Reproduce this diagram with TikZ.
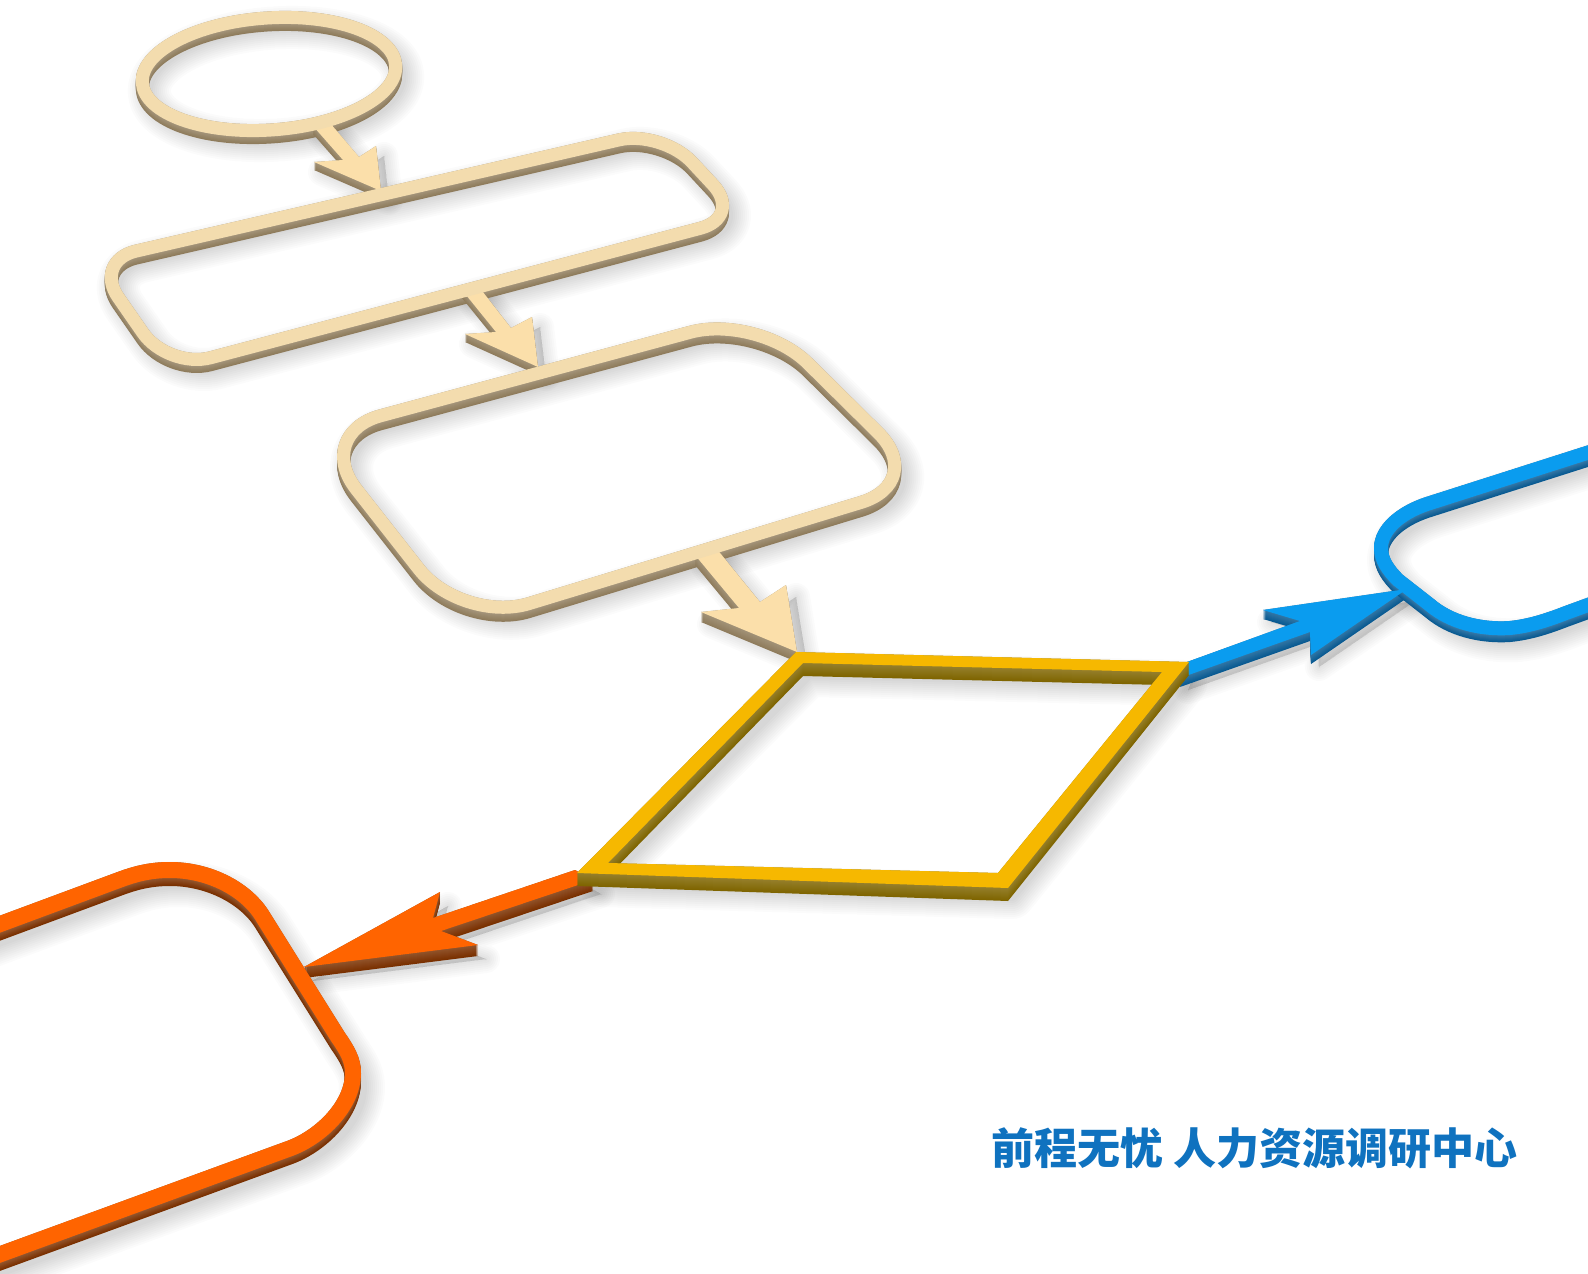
\documentclass[tikz,border=0pt]{standalone}
\usepackage{fontspec}
\newfontfamily\cjk{Noto Sans CJK SC}
\usetikzlibrary{calc}
\definecolor{beigeT}{HTML}{F3DCAE}
\definecolor{beigeA}{HTML}{FBDFAA}
\definecolor{beigeW}{HTML}{8F7C5C}
\definecolor{blueT}{HTML}{0A9CEF}
\definecolor{blueW}{HTML}{095A92}
\definecolor{orT}{HTML}{FF6400}
\definecolor{orW}{HTML}{7A3000}
\definecolor{goldT}{HTML}{F6B800}
\definecolor{goldW}{HTML}{7F6500}
\definecolor{txt}{HTML}{0F72BF}
% soft shadow of a stroked path: {path}{core width}{dx}{dy}
\newcommand{\softshadow}[4]{%
  \foreach \e in {36,32,...,0}{%
    \draw[black,opacity=.017,line join=round,line width=#2pt+\e pt-6pt,shift={(#3,#4)}] #1;}}
% raised wall of a stroked path: {path}{width}{height}{colour}
\newcommand{\wallstroke}[4]{%
  \foreach \s in {0,1,...,#3}{%
    \pgfmathsetmacro{\mixv}{100-20*\s/#3}%
    \draw[#4!\mixv!white,line join=round,line cap=butt,line width=#2pt,shift={(0,#3-\s)}] #1;}}
\newcommand{\topstroke}[3]{\draw[#3,line join=round,line cap=butt,line width=#2pt] #1;}
% filled polygons: {path}{height}{colour}
\newcommand{\wallfill}[3]{%
  \foreach \s in {0,1,...,#2}{%
    \pgfmathsetmacro{\mixv}{100-18*\s/#2}%
    \fill[#3!\mixv!white,even odd rule,shift={(0,#2-\s)}] #1;}}
\newcommand{\softfill}[3]{%
  \foreach \e in {28,24,...,0}{%
    \draw[black,fill=black,opacity=.014,line join=round,line width=\e pt,shift={(#2,#3)}] #1;}}

\def\pEll{(269,74) ellipse [x radius=127pt,y radius=56pt,rotate=4]}
\def\pRa{[rounded corners=44pt] (93,261) -- (662,130) -- (743,217) -- (168,369) -- cycle}
\def\pRb{[rounded corners=70pt] (313,434) -- (758,314) -- (928,482) -- (462,624) -- cycle}
\def\pBl{(1640,436) -- (1427,504) .. controls (1400,513) and (1381,530) .. (1381,548) .. controls (1381,560) and (1388,570) .. (1398,580) -- (1430,605) .. controls (1450,622) and (1480,630) .. (1510,628) .. controls (1530,626) and (1548,620) .. (1566,613) -- (1640,586)}
\def\pOr{(-40,1269) -- (291,1148) .. controls (322,1136) and (353,1105) .. (353,1073) .. controls (353,1060) and (347,1050) .. (338,1037) -- (263,917) .. controls (247,890) and (210,870) .. (170,870) .. controls (150,870) and (135,874) .. (119,880) -- (-40,939)}
\def\pAa{(313,126) -- (330,123) -- (359,157) -- (376,146) -- (381,191) -- (314,162) -- (343,160) -- cycle}
\def\pAb{(462,290) -- (479,287) -- (511,328) -- (532,317) -- (538,367) -- (465,334) -- (496,332) -- cycle}
\def\pAc{(695,555) -- (716,548) -- (760,602) -- (786,585) -- (797,652) -- (701,612) -- (739,608) -- cycle}
\def\pAd{(1187,662) -- (1300,621) -- (1263,610) -- (1407,589) -- (1311,655) -- (1310,632) -- (1180,678) -- cycle}
\def\pAe{(575,870) -- (433,918) -- (440,892) -- (304,967) -- (478,945) -- (441,931) -- (593,880) -- cycle}
\def\pDi{(796,652) -- (1189,662) -- (1008,888) -- (577,873) -- cycle (803,663) -- (1162,672) -- (998,873) -- (608,863) -- cycle}
\def\pDc{(800,658) -- (1175,667) -- (1003,880) -- (592,868) -- cycle}

\begin{document}
\begin{tikzpicture}[x=1pt,y=-1pt]
\useasboundingbox (0,0) rectangle (1588,1274);
\clip (0,0) rectangle (1588,1274);
\fill[white] (0,0) rectangle (1588,1274);
% shadows
\softshadow{\pEll}{13}{7}{10}
\softshadow{\pRa}{13}{7}{10}
\softshadow{\pRb}{13}{8}{11}
\softshadow{\pBl}{14}{8}{12}
\softshadow{\pOr}{16}{9}{14}
\softshadow{\pDc}{16}{9}{16}
\softfill{\pAa}{8}{10}
\softfill{\pAb}{8}{10}
\softfill{\pAc}{10}{12}
\softfill{\pAd}{8}{12}
\softfill{\pAe}{8}{14}
% beige group
\wallstroke{\pEll}{13}{7}{beigeW}
\wallstroke{\pRa}{13}{7}{beigeW}
\wallstroke{\pRb}{13}{8}{beigeW}
\wallfill{\pAa}{8}{beigeW}
\wallfill{\pAb}{8}{beigeW}
\wallfill{\pAc}{10}{beigeW}
\fill[beigeA] \pAa;
\fill[beigeA] \pAb;
\fill[beigeA] \pAc;
\topstroke{\pEll}{13}{beigeT}
\topstroke{\pRa}{13}{beigeT}
\topstroke{\pRb}{13}{beigeT}
% blue group
\wallfill{\pAd}{9}{blueW}
\wallstroke{\pBl}{14}{7}{blueW}
\fill[blueT] \pAd;
\topstroke{\pBl}{14}{blueT}
% orange group
\wallfill{\pAe}{11}{orW}
\wallstroke{\pOr}{16}{8}{orW}
\fill[orT] \pAe;
\topstroke{\pOr}{16}{orT}
% gold diamond
\wallfill{\pDi}{13}{goldW}
\fill[goldT,even odd rule] \pDi;
% caption
\node[anchor=west,inner sep=0pt,text=txt,font=\cjk\bfseries\fontsize{43}{47}\selectfont] (cap) at (991,1148) {前程无忧 人力资源调研中心};
\end{tikzpicture}
\end{document}
